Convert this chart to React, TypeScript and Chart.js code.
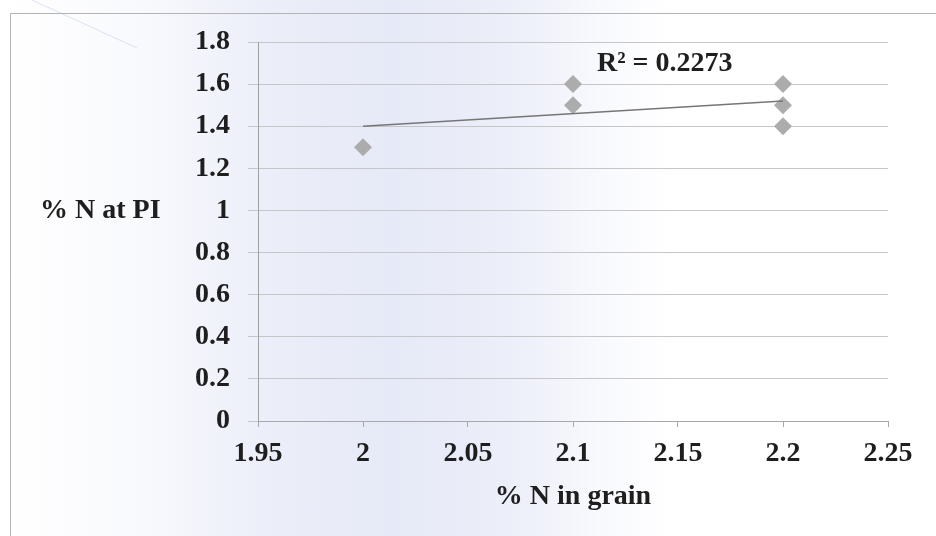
import React, { useEffect, useRef } from "react";
import { Chart, registerables } from "chart.js";

Chart.register(...registerables);

// Data
const nInGrain = [2, 2.1, 2.1, 2.2, 2.2, 2.2];
const nAtPI = [1.3, 1.6, 1.5, 1.6, 1.5, 1.4];
const trendX = [2, 2.2];
const trendY = [1.4, 1.52];
const rSquaredLabel = "R\u00B2 = 0.2273";
const xTitle = "% N in grain";
const yTitle = "% N at PI";
const xMin = 1.95, xMax = 2.25, xStep = 0.05;
const yMin = 0, yMax = 1.8, yStep = 0.2;

const FONT_FAMILY = "'Liberation Serif', 'Times New Roman', serif";
const TEXT_COLOR = "#1e1e1e";

const fmt = (v: number) => String(parseFloat(Number(v).toFixed(2)));

const decorPlugin = {
  id: "decor",
  beforeDraw(chart: any) {
    const ctx = chart.ctx;
    ctx.save();
    // outer frame (left & top visible)
    ctx.strokeStyle = "#b4b4b4";
    ctx.lineWidth = 1;
    ctx.beginPath();
    ctx.moveTo(10.5, chart.height);
    ctx.lineTo(10.5, 13.5);
    ctx.lineTo(chart.width, 13.5);
    ctx.stroke();
    // faint scan line artifact
    ctx.strokeStyle = "rgba(170,170,225,0.35)";
    ctx.beginPath();
    ctx.moveTo(32, 0);
    ctx.lineTo(137, 48);
    ctx.stroke();
    ctx.restore();
  },
  afterDraw(chart: any) {
    const ctx = chart.ctx;
    const xs = chart.scales.x;
    const ys = chart.scales.y;
    ctx.save();
    ctx.fillStyle = TEXT_COLOR;
    ctx.font = `bold 28px ${FONT_FAMILY}`;
    // y title, horizontal, left of the tick labels
    ctx.textAlign = "left";
    ctx.textBaseline = "middle";
    ctx.fillText(yTitle, 40, ys.getPixelForValue(1));
    // R squared label
    ctx.fillText(rSquaredLabel, xs.getPixelForValue(2.1) + 24, ys.getPixelForValue(1.7) + 1);
    ctx.restore();
  },
};

export default function App() {
  const ref = useRef<HTMLCanvasElement | null>(null);

  useEffect(() => {
    if (!ref.current) return;
    const chart = new Chart(ref.current, {
      type: "scatter",
      data: {
        datasets: [
          {
            label: "trend",
            data: trendX.map((x, i) => ({ x, y: trendY[i] })),
            showLine: true,
            borderColor: "#767676",
            borderWidth: 1.5,
            pointRadius: 0,
            fill: false,
          },
          {
            label: "points",
            data: nInGrain.map((x, i) => ({ x, y: nAtPI[i] })),
            pointStyle: "rectRot",
            pointRadius: 9,
            backgroundColor: "#acacac",
            borderColor: "#acacac",
            borderWidth: 0,
            showLine: false,
          },
        ],
      },
      options: {
        animation: false,
        responsive: false,
        devicePixelRatio: 1,
        layout: { padding: { left: 0, top: 42, right: 48, bottom: 0 } },
        plugins: {
          legend: { display: false },
          tooltip: { enabled: false },
        },
        scales: {
          x: {
            type: "linear",
            min: xMin,
            max: xMax,
            afterFit: (s: any) => { s.height = 115; },
            ticks: {
              stepSize: xStep,
              callback: (v: any) => fmt(v),
              font: { family: FONT_FAMILY, size: 28, weight: "bold" },
              color: TEXT_COLOR,
              padding: 10,
              maxRotation: 0,
              autoSkip: false,
            },
            grid: {
              drawOnChartArea: false,
              drawTicks: true,
              tickLength: 6,
              color: "#a8a8a8",
            },
            border: { display: true, color: "#a8a8a8" },
            title: {
              display: true,
              text: xTitle,
              font: { family: FONT_FAMILY, size: 28, weight: "bold" },
              color: TEXT_COLOR,
              padding: { top: 0, bottom: 22 },
            },
          },
          y: {
            type: "linear",
            min: yMin,
            max: yMax,
            afterFit: (s: any) => { s.width = 258; },
            ticks: {
              stepSize: yStep,
              callback: (v: any) => fmt(v),
              font: { family: FONT_FAMILY, size: 28, weight: "bold" },
              color: TEXT_COLOR,
              padding: 18,
            },
            grid: {
              color: "#c6c6c6",
              lineWidth: 1,
              drawTicks: true,
              tickLength: 10,
            },
            border: { display: true, color: "#a0a0a0" },
          },
        },
      },
      plugins: [decorPlugin],
    } as any);
    return () => chart.destroy();
  }, []);

  return (
    <div
      style={{
        position: "absolute",
        left: 0,
        top: 0,
        width: 936,
        height: 536,
        background:
          "linear-gradient(to right, #ffffff 0%, #f8f9fd 16%, #eceef9 28%, #e6e9f7 42%, #eceef9 54%, #f8f9fd 64%, #ffffff 72%, #ffffff 100%)",
      }}
    >
      <canvas ref={ref} width={936} height={536} style={{ display: "block" }} />
    </div>
  );
}
